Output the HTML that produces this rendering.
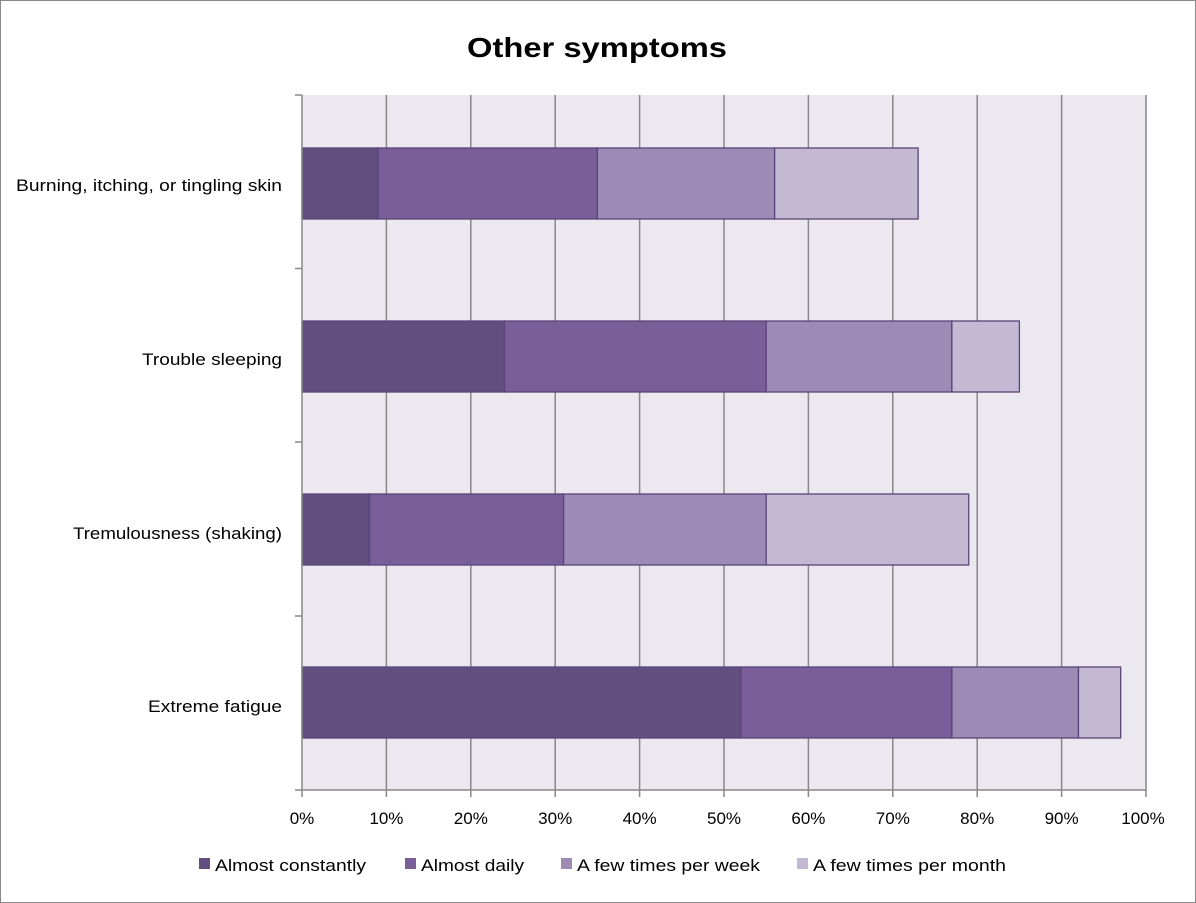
<!DOCTYPE html>
<html><head><meta charset="utf-8"><style>
html,body{margin:0;padding:0;background:#fff}
svg{display:block;font-family:"Liberation Sans",sans-serif}
</style></head><body>
<svg id="s" width="1196" height="903" viewBox="0 0 1196 903">
<rect x="0.5" y="0.5" width="1195" height="902" fill="#fff" stroke="#888"/>
<text x="467" y="57" textLength="260" lengthAdjust="spacingAndGlyphs" font-size="28" font-weight="bold" fill="#000">Other symptoms</text>
<rect x="302" y="95" width="844" height="695" fill="#ebe8ef"/>
<g id="grid" stroke="#888" stroke-width="1.5"></g>
<g id="bars" stroke="#5a4478" stroke-width="1.3"></g>
<g stroke="#888" stroke-width="1.5">
<line x1="302" y1="95" x2="302" y2="797"/>
<line x1="295" y1="790" x2="1146" y2="790"/>
<line x1="295" y1="95" x2="302" y2="95"/>
<line x1="295" y1="268.5" x2="302" y2="268.5"/>
<line x1="295" y1="442" x2="302" y2="442"/>
<line x1="295" y1="616" x2="302" y2="616"/>
</g>
<g font-size="17" fill="#000" lengthAdjust="spacingAndGlyphs">
<text x="16" y="191" textLength="266" lengthAdjust="spacingAndGlyphs">Burning, itching, or tingling skin</text>
<text x="142" y="365" textLength="140" lengthAdjust="spacingAndGlyphs">Trouble sleeping</text>
<text x="73" y="539" textLength="209" lengthAdjust="spacingAndGlyphs">Tremulousness (shaking)</text>
<text x="148" y="712" textLength="134" lengthAdjust="spacingAndGlyphs">Extreme fatigue</text>
</g>
<g font-size="17" fill="#000" text-anchor="middle">
<text x="302" y="824">0%</text><text x="386.4" y="824">10%</text><text x="470.8" y="824">20%</text>
<text x="555.2" y="824">30%</text><text x="639.6" y="824">40%</text><text x="724" y="824">50%</text>
<text x="808.4" y="824">60%</text><text x="892.8" y="824">70%</text><text x="977.2" y="824">80%</text>
<text x="1061.6" y="824">90%</text><text x="1143" y="824">100%</text>
</g>
<g font-size="17" fill="#000">
<rect x="199" y="858" width="11" height="11" fill="#634e80"/><text x="215" y="871" textLength="151" lengthAdjust="spacingAndGlyphs">Almost constantly</text>
<rect x="405" y="858" width="11" height="11" fill="#7a5e9a"/><text x="421" y="871" textLength="103" lengthAdjust="spacingAndGlyphs">Almost daily</text>
<rect x="561" y="858" width="11" height="11" fill="#9d8ab5"/><text x="577" y="871" textLength="183" lengthAdjust="spacingAndGlyphs">A few times per week</text>
<rect x="797" y="858" width="11" height="11" fill="#c4b9d2"/><text x="813" y="871" textLength="193" lengthAdjust="spacingAndGlyphs">A few times per month</text>
</g>
</svg>
<script>
var ns="http://www.w3.org/2000/svg";
function X(p){return 302+8.44*p;}
var g=document.getElementById("grid");
for(var i=1;i<=10;i++){var l=document.createElementNS(ns,"line");var x=X(i*10);
l.setAttribute("x1",x);l.setAttribute("x2",x);l.setAttribute("y1",95);l.setAttribute("y2",797);g.appendChild(l);}
var cols=["#634e80","#7a5e9a","#9d8ab5","#c4b9d2"];
var data=[[148,[0,9,35,56,73]],[321,[0,24,55,77,85]],[494,[0,8,31,55,79]],[667,[0,52,77,92,97]]];
var b=document.getElementById("bars");
data.forEach(function(d){for(var k=0;k<4;k++){var r=document.createElementNS(ns,"rect");
r.setAttribute("x",X(d[1][k]));r.setAttribute("width",X(d[1][k+1])-X(d[1][k]));
r.setAttribute("y",d[0]);r.setAttribute("height",71);r.setAttribute("fill",cols[k]);b.appendChild(r);}});
</script>
</body></html>
